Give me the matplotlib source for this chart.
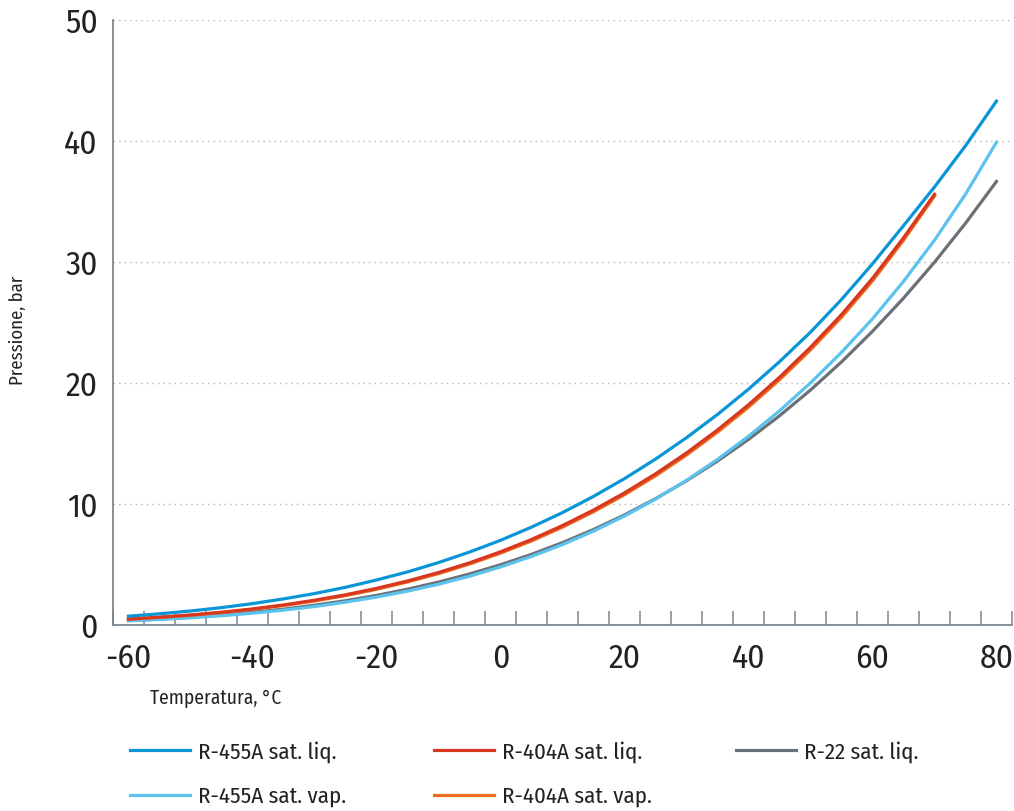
import matplotlib
matplotlib.use("Agg")
import matplotlib.pyplot as plt
from matplotlib.ticker import MultipleLocator, FixedLocator

plt.rcParams['font.family'] = ['Fira Sans Condensed', 'Roboto Condensed', 'PT Sans Narrow',
                               'Liberation Sans Narrow', 'Open Sans', 'DejaVu Sans']
plt.rcParams['axes.unicode_minus'] = False

# temperature, °C
temp = [-60, -55, -50, -45, -40, -35, -30, -25, -20, -15, -10, -5, 0, 5, 10,
        15, 20, 25, 30, 35, 40, 45, 50, 55, 60, 65, 70, 75, 80]
temp_404 = temp[:27]

# pressure, bar
r455a_liq = [0.73, 0.93, 1.16, 1.44, 1.77, 2.16, 2.60, 3.12, 3.72, 4.39, 5.16, 6.03, 7.00,
             8.09, 9.29, 10.63, 12.10, 13.71, 15.48, 17.40, 19.49, 21.76, 24.20, 26.90,
             29.85, 33.0, 36.2, 39.6, 43.3]
r455a_vap = [0.35, 0.46, 0.60, 0.77, 0.98, 1.23, 1.53, 1.89, 2.31, 2.80, 3.37, 4.03, 4.80,
             5.67, 6.65, 7.76, 9.01, 10.40, 11.96, 13.69, 15.60, 17.70, 20.01, 22.53,
             25.30, 28.40, 31.80, 35.60, 39.9]
r404a_liq = [0.50, 0.65, 0.83, 1.06, 1.33, 1.66, 2.05, 2.50, 3.03, 3.64, 4.34, 5.14, 6.05,
             7.07, 8.22, 9.50, 10.92, 12.49, 14.22, 16.12, 18.20, 20.47, 22.95, 25.65,
             28.65, 32.0, 35.6]
r404a_vap = [0.48, 0.63, 0.81, 1.03, 1.29, 1.61, 1.99, 2.43, 2.95, 3.56, 4.25, 5.04, 5.94,
             6.95, 8.09, 9.36, 10.77, 12.33, 14.05, 15.94, 18.01, 20.27, 22.74, 25.44,
             28.44, 31.8, 35.45]
r22_liq = [0.375, 0.49, 0.645, 0.83, 1.05, 1.31, 1.64, 2.01, 2.45, 2.96, 3.55, 4.22, 4.98,
           5.84, 6.81, 7.89, 9.10, 10.44, 11.92, 13.55, 15.34, 17.29, 19.42, 21.74, 24.27,
           27.01, 29.98, 33.2, 36.66]

fig = plt.figure(figsize=(10.14, 8.11), dpi=100)
ax = fig.add_axes([0.1114, 0.2293, 0.8866, 0.746])

lw = 2.3
l_gr, = ax.plot(temp, r22_liq, color='#6b7178', lw=lw, label='R-22 sat. liq.', zorder=3)
l_lb, = ax.plot(temp, r455a_vap, color='#5bc3ee', lw=lw, label='R-455A sat. vap.', zorder=4)
l_or, = ax.plot(temp_404, r404a_vap, color='#ec6b1d', lw=lw, label='R-404A sat. vap.', zorder=5)
l_rd, = ax.plot(temp_404, r404a_liq, color='#d7381f', lw=lw, label='R-404A sat. liq.', zorder=6)
l_db, = ax.plot(temp, r455a_liq, color='#0a96d6', lw=lw, label='R-455A sat. liq.', zorder=7)

ax.set_xlim(-62.5, 82.5)
ax.set_ylim(0, 50)
ax.yaxis.set_major_locator(MultipleLocator(10))
ax.set_xticks([-60, -40, -20, 0, 20, 40, 60, 80])
ax.xaxis.set_minor_locator(FixedLocator([-62.5 + 5 * i for i in range(30)]))

ax.grid(axis='y', color='#b5b5b5', linestyle=(0, (1, 3)), linewidth=1)
ax.set_axisbelow(True)

for s in ['top', 'right']:
    ax.spines[s].set_visible(False)
for s in ['left', 'bottom']:
    ax.spines[s].set_color('#7d8690')
    ax.spines[s].set_linewidth(1.3)

txt_col = '#222222'
ax.tick_params(axis='y', length=0, pad=11, labelsize=24, labelcolor=txt_col)
ax.tick_params(axis='x', which='major', length=0, pad=13, labelsize=24, labelcolor=txt_col)
ax.tick_params(axis='x', which='minor', direction='in', length=10, width=1.1, color='#7d8690')
ax.xaxis.get_minor_ticks()[7].tick1line.set_color('#4fb8ea')

fig.text(150 / 1014, 1 - 698 / 811, 'Temperatura, °C', fontsize=14, ha='left', va='center',
         color=txt_col)
fig.text(18 / 1014, 1 - 330 / 811, 'Pressione, bar', fontsize=13.5, rotation=90, ha='center',
         va='center', color=txt_col)

# legend: three columns at fixed positions
columns = [([l_db, l_lb], 130), ([l_rd, l_or], 434), ([l_gr], 736)]
for hs, x0 in columns:
    leg = fig.legend(hs, [h.get_label() for h in hs], loc='upper left',
                     bbox_to_anchor=(x0 / 1014, 1 - 741 / 811), frameon=False, fontsize=16.5,
                     handlelength=2.6, handletextpad=0.35, labelspacing=1.0,
                     borderpad=0, borderaxespad=0)
    for t in leg.get_texts():
        t.set_color(txt_col)

fig.savefig('out.png', dpi=100)
